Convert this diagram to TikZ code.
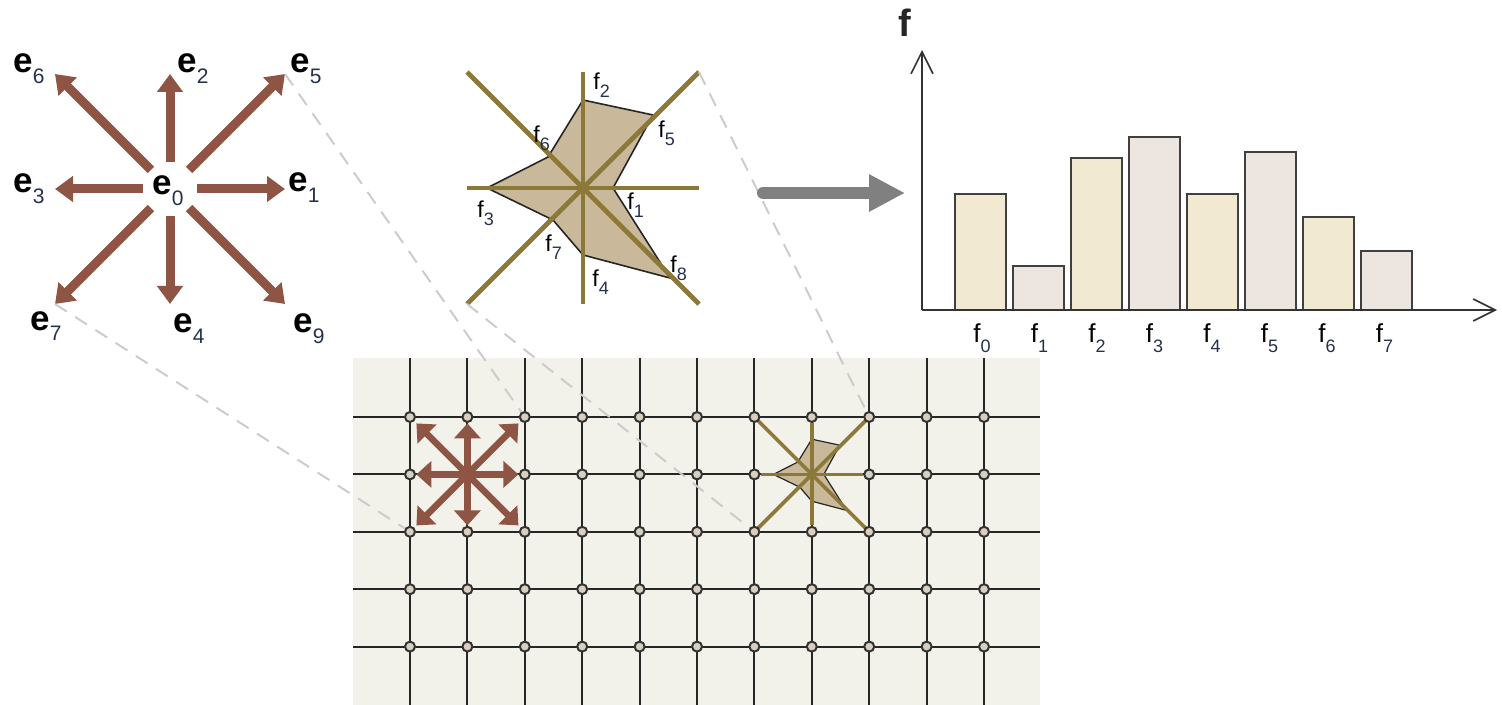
\documentclass[tikz,border=0pt]{standalone}
\usepackage{fontspec}
\setmainfont{Liberation Sans}
\usetikzlibrary{arrows.meta,calc}
\definecolor{brn}{HTML}{8E5444}
\definecolor{olv}{HTML}{8C7838}
\definecolor{polyfill}{HTML}{C9B99A}
\definecolor{gridbg}{HTML}{F2F1EA}
\definecolor{dotfill}{HTML}{D9CFBF}
\definecolor{barA}{HTML}{F2E9D3}
\definecolor{barB}{HTML}{ECE5E0}
\definecolor{subc}{HTML}{24304C}
\newcommand\elab[1]{{\fontsize{17.5}{18}\selectfont\bfseries e}\raisebox{-5.5pt}{\fontsize{10.5}{11}\selectfont\color{subc}#1}}
\newcommand\flab[1]{{\fontsize{11.5}{12}\selectfont f}\raisebox{-4pt}{\fontsize{9}{9}\selectfont\color{subc}#1}}
\newcommand\hlab[1]{{\fontsize{13}{13}\selectfont f}\raisebox{-5pt}{\fontsize{9}{9}\selectfont\color{subc}#1}}

\begin{document}
\begin{tikzpicture}[x=0.5pt,y=-0.5pt,every node/.style={inner sep=0pt,anchor=base west},
  earrow/.style={draw=brn,line width=4.5pt,shorten <=13.5pt,-{Triangle[length=9pt,width=12.5pt]}},
  garrow/.style={draw=brn,line width=3.3pt,-{Triangle[length=7.5pt,width=13pt]}},
  spoke/.style={draw=olv,line width=2.4pt},
  dashline/.style={draw=black!20,line width=1pt,dash pattern=on 7pt off 5pt},
  dot/.style={circle,draw=black!80,fill=dotfill,line width=1pt,minimum size=5pt,anchor=center},
  bar/.style={draw=black!75,line width=1pt},
  axis/.style={draw=black!80,line width=0.8pt,-{Straight Barb[length=11pt,width=11pt]}}]
\useasboundingbox (0,0) rectangle (1502,705);
% lattice
\fill[gridbg] (353,358) rectangle (1040,705);
\foreach \k in {0,...,10}{\draw[black!85,line width=1pt] ({410+57.4*\k},358) -- ({410+57.4*\k},705);}
\foreach \j in {0,...,4}{\draw[black!85,line width=1pt] (353,{417+57.4*\j}) -- (1040,{417+57.4*\j});}
\foreach \k in {0,...,10}{\foreach \j in {0,...,4}{\coordinate (p-\k-\j) at ({410+57.4*\k},{417+57.4*\j});}}
% velocity set
\coordinate (e0c) at (170,189);
\foreach \n/\dx/\dy in {1/1/0,2/0/-1,3/-1/0,4/0/1,5/1/-1,6/-1/-1,7/-1/1,9/1/1}{
  \coordinate (et\n) at ($(e0c)+(115*\dx,115*\dy)$);
  \draw[earrow] (e0c) -- (et\n);}
\node (e0) at (152,195) {\elab{0}};
\node (e1) at (288,192) {\elab{1}};
\node (e2) at (177,73) {\elab{2}};
\node (e3) at (13,193) {\elab{3}};
\node (e4) at (173,333) {\elab{4}};
\node (e5) at (290,73) {\elab{5}};
\node (e6) at (13,73) {\elab{6}};
\node (e7) at (30,330) {\elab{7}};
\node (e9) at (293,333) {\elab{9}};
% distribution star
\coordinate (fc) at (583,188);
\begin{scope}[shift={(fc)}]
\filldraw[fill=polyfill,draw=black!85,line width=0.8pt] (0,-88) -- (70,-73) -- (30,0) -- (87,90) -- (0,67) -- (-30,32) -- (-96,0) -- (-35,-31) -- cycle;
\end{scope}
\foreach \n/\dx/\dy in {1/1/0,2/0/-1,3/-1/0,4/0/1,5/1/-1,6/-1/-1,7/-1/1,8/1/1}{
  \coordinate (fs\n) at ($(fc)+(116*\dx,116*\dy)$);
  \draw[spoke] (fc) -- (fs\n);}
\node (f1) at (627,210) {\flab{1}};
\node (f2) at (593,90) {\flab{2}};
\node (f3) at (477,218) {\flab{3}};
\node (f4) at (592,287) {\flab{4}};
\node (f5) at (658,138) {\flab{5}};
\node (f6) at (533,143) {\flab{6}};
\node (f7) at (545,252) {\flab{7}};
\node (f8) at (670,273) {\flab{8}};
% zoom lines
\draw[dashline] (et5) -- (p-2-0);
\draw[dashline] (et7) -- (p-0-2);
\draw[dashline] (fs5) -- (p-8-0);
\draw[dashline] (fs7) -- (p-6-2);
% small star on the lattice
\coordinate (gs) at (p-7-1);
\begin{scope}[shift={(gs)},scale=0.4]
\filldraw[fill=polyfill,draw=black!85,line width=0.6pt] (0,-88) -- (70,-73) -- (30,0) -- (87,90) -- (0,67) -- (-30,32) -- (-96,0) -- (-35,-31) -- cycle;
\end{scope}
\foreach \dx/\dy in {1/0,0/-1,-1/0,0/1}{\draw[spoke,line width=1.8pt] (gs) -- ($(gs)+(51*\dx,51*\dy)$);}
\foreach \dx/\dy in {1/-1,-1/-1,-1/1,1/1}{\draw[spoke,line width=1.8pt] (gs) -- ($(gs)+(54*\dx,54*\dy)$);}
\foreach \k in {0,...,10}{\foreach \j in {0,...,4}{
  \ifnum\j=1 \ifnum\k=1 \else\ifnum\k=7 \else\node[dot] (d-\k-\j) at (p-\k-\j) {};\fi\fi
  \else\node[dot] (d-\k-\j) at (p-\k-\j) {};\fi}}
% small velocity set on the lattice
\coordinate (gc) at (p-1-1);
\foreach \dx/\dy in {1/0,0/-1,-1/0,0/1,1/-1,-1/-1,-1/1,1/1}{\draw[garrow] (gc) -- ($(gc)+(51*\dx,51*\dy)$);}
% arrow to histogram
\coordinate (ga1) at (763,193);
\coordinate (ga2) at (905,193);
\draw[draw=black!50,line width=6pt,line cap=round,-{Triangle[length=18pt,width=17.5pt]}] (ga1) -- (ga2);
% histogram
\coordinate (o) at (922,310);
\coordinate (ytop) at (922,50);
\coordinate (xend) at (1497,310);
\foreach \i/\h/\c in {0/194/barA,1/266/barB,2/158/barA,3/137/barB,4/194/barA,5/152/barB,6/217/barA,7/251/barB}{
  \draw[bar,fill=\c] ({955+58*\i},310) rectangle ({1006+58*\i},\h);
  \node (h\i) at ({973+57.5*\i},343) {\hlab{\i}};}
\draw[axis] (o) -- (ytop);
\draw[axis] (o) -- (xend);
\node (fy) at (898,37) {\fontsize{19}{19}\selectfont\bfseries\color{black!85} f};
\end{tikzpicture}
\end{document}
